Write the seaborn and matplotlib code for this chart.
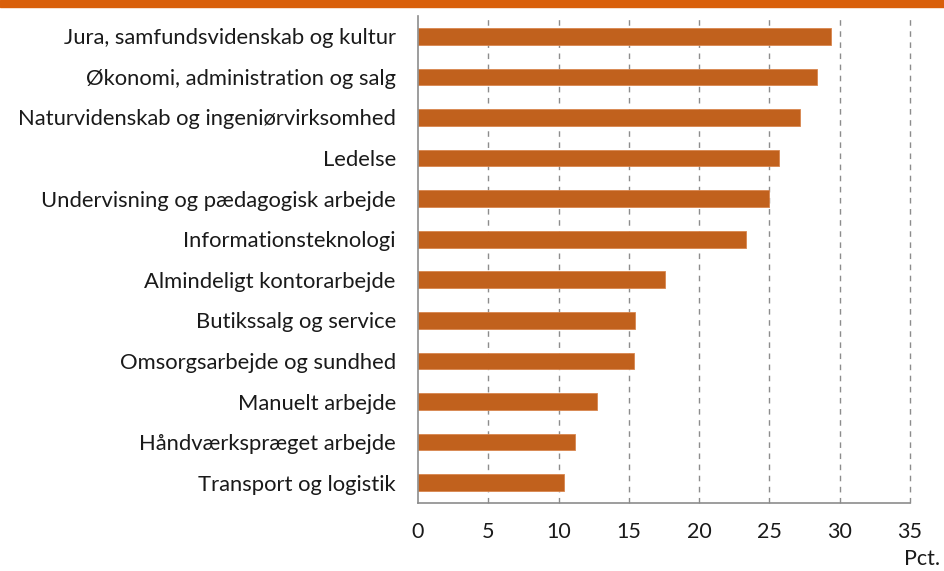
import matplotlib
matplotlib.use('Agg')
import matplotlib.pyplot as plt
import seaborn as sns
import numpy as np
from matplotlib.patches import Rectangle

sns.set_style('white')
plt.rcParams['font.family'] = ['Lato', 'DejaVu Sans']

# data, top to bottom
categories = [
    'Jura, samfundsvidenskab og kultur',
    'Økonomi, administration og salg',
    'Naturvidenskab og ingeniørvirksomhed',
    'Ledelse',
    'Undervisning og pædagogisk arbejde',
    'Informationsteknologi',
    'Almindeligt kontorarbejde',
    'Butikssalg og service',
    'Omsorgsarbejde og sundhed',
    'Manuelt arbejde',
    'Håndværkspræget arbejde',
    'Transport og logistik',
]
values = [29.4, 28.4, 27.2, 25.7, 25.0, 23.35, 17.55, 15.45, 15.35, 12.7, 11.15, 10.4]
x_ticks = [0, 5, 10, 15, 20, 25, 30, 35]

bar_color = '#C1611D'
grey = '#8C8C8C'
txt = '#1a1a1a'

fig = plt.figure(figsize=(9.44, 5.71), dpi=100)
ax = fig.add_axes([418 / 944, 1 - 503 / 571, 492 / 944, 487 / 571])

sns.barplot(x=values, y=categories, orient='h', color=bar_color, width=0.41,
            edgecolor='#D9864E', linewidth=0.6, saturation=1, ax=ax)

ax.set_xlim(0, 35)
ax.set_ylim(11.5, -0.5)
ax.set_xticks(x_ticks)
ax.set_xticklabels([str(t) for t in x_ticks], fontsize=15.5)
ax.set_ylabel('')
ax.set_xlabel('')

# dashed vertical gridlines (not at 0)
for t in x_ticks[1:]:
    ax.axvline(t, color=grey, linestyle=(0, (4, 4)), linewidth=1, zorder=0, clip_on=False)

for s in ['top', 'right']:
    ax.spines[s].set_visible(False)
for s in ['left', 'bottom']:
    ax.spines[s].set_color(grey)
    ax.spines[s].set_linewidth(1.2)

ax.tick_params(axis='y', which='major', length=0, pad=16, labelsize=15.8)
ax.set_yticks(np.arange(-0.5, 12, 1), minor=True)
ax.tick_params(axis='y', which='minor', length=6, color=grey, width=1.2)
ax.tick_params(axis='x', length=6, color=grey, width=1.2, pad=8, direction='out')
for lbl in ax.get_yticklabels() + ax.get_xticklabels():
    lbl.set_color(txt)

fig.text(940 / 944, 1 - 565 / 571, 'Pct.', ha='right', va='baseline',
         fontsize=15.5, color=txt)

# orange band at the top
fig.add_artist(Rectangle((0, 1 - 7 / 571), 1, 7 / 571, transform=fig.transFigure,
                         color='#D95F0A', zorder=5))

fig.savefig('out.png', dpi=100)
